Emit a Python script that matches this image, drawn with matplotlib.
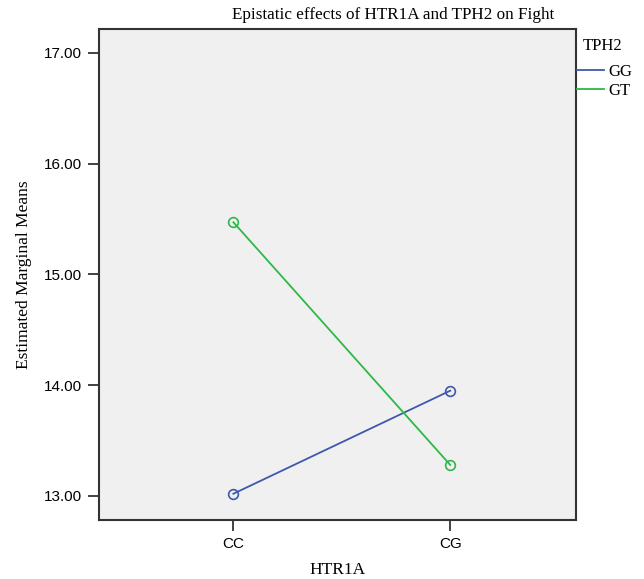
import numpy as np
import matplotlib
matplotlib.use("Agg")
import matplotlib.pyplot as plt
from matplotlib.lines import Line2D

#------------------------------------------------------------------------------
# Data (estimated marginal means)
#------------------------------------------------------------------------------
htr1a = ["CC", "CG"]
tph2_groups = ["GG", "GT"]
means_GG = [13.02, 13.95]
means_GT = [15.47, 13.28]
yticks = [13.0, 14.0, 15.0, 16.0, 17.0]

colors = {"GG": "#3E58AC", "GT": "#2EB848"}
serif = "Liberation Serif"
sans = "Liberation Sans"

fig = plt.figure(figsize=(6.44, 5.79), dpi=100)
ax = fig.add_axes([0.1537, 0.1019, 0.7407, 0.848])
ax.set_facecolor("#F0F0F0")

x = np.arange(len(htr1a))
for name, vals in zip(tph2_groups, [means_GG, means_GT]):
    ax.plot(x, vals, color=colors[name], lw=1.3, marker="o", ms=7,
            mfc="none", mec=colors[name], mew=1.2)

ax.set_xlim(-0.62, 1.58)
ax.set_ylim(12.783, 17.214)
ax.set_xticks(x)
ax.set_xticklabels(htr1a, family=sans, fontsize=11)
ax.set_yticks(yticks)
ax.set_yticklabels(["%.2f" % v for v in yticks], family=sans, fontsize=11)
ax.tick_params(length=8, width=1.2, color="#222222", pad=4)

for s in ax.spines.values():
    s.set_color("#333333")
    s.set_linewidth(1.5)

ax.set_xlabel("HTR1A", family=serif, fontsize=12.5, labelpad=8)
ax.set_ylabel("Estimated Marginal Means", family=serif, fontsize=12.5, labelpad=9)

fig.text(393 / 644, 1 - 15 / 579, "Epistatic effects of HTR1A and TPH2 on Fight",
         family=serif, fontsize=12.3, ha="center", va="center")

# legend (title placed separately, slightly indented like the original)
fig.text(583 / 644, 1 - 46 / 579, "TPH2", family=serif, fontsize=12,
         ha="left", va="center")
handles = [Line2D([], [], color=colors[n], lw=1.3) for n in tph2_groups]
leg = ax.legend(handles, tph2_groups, loc="upper left", bbox_to_anchor=(0.995, 0.935),
                frameon=False, prop={"family": serif, "size": 12},
                handlelength=1.6, handletextpad=0.3, labelspacing=0.15,
                borderaxespad=0, borderpad=0.2)

fig.savefig("out.png", dpi=100)
